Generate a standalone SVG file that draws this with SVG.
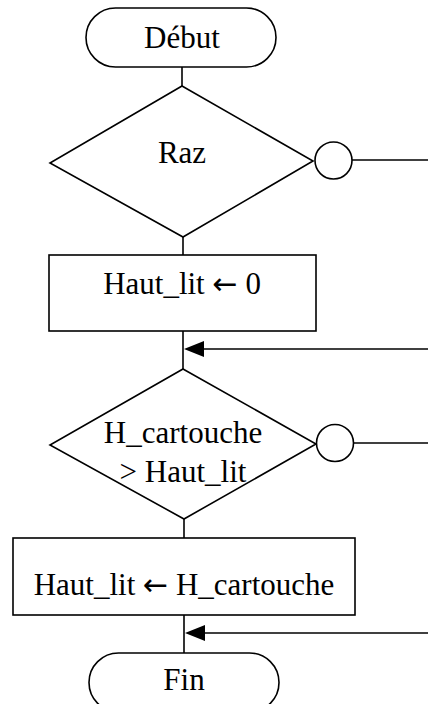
<svg xmlns="http://www.w3.org/2000/svg" width="428" height="704" viewBox="0 0 428 704">
<style>
.s{fill:#fff;stroke:#000;stroke-width:1.6}
.c{fill:none;stroke:#000;stroke-width:1.6}
.t{font-family:"Liberation Serif","Times New Roman",serif;font-size:31px;fill:#000;text-anchor:middle}
.ar{font-family:"DejaVu Sans",sans-serif;font-size:30px}
.a{fill:#000;stroke:none}
</style>
<rect width="428" height="704" fill="#fff"/>
<g id="connectors">
<path class="c" d="M182 67V86"/>
<path class="c" d="M183 237V255"/>
<path class="c" d="M183 331V369"/>
<path class="c" d="M428 349H190"/>
<polygon class="a" points="184,349 204,341 204,357"/>
<path class="c" d="M184 519V538"/>
<path class="c" d="M184 615V653"/>
<path class="c" d="M428 633H190"/>
<polygon class="a" points="185,633 205,625 205,641"/>
<path class="c" d="M352 160H428"/>
<path class="c" d="M354 443H428"/>
</g>
<g id="debut">
<rect class="s" x="86" y="8" width="190" height="59" rx="29.5"/>
<text class="t" x="182" y="48">Début</text>
</g>
<g id="raz">
<polygon class="s" points="182,86 313,161 183,237 50,163"/>
<text class="t" x="182" y="163">Raz</text>
</g>
<g id="conn1">
<circle class="s" cx="333.5" cy="160.5" r="18.5"/>
</g>
<g id="init">
<rect class="s" x="49" y="255" width="267" height="76"/>
<text class="t" x="182" y="294">Haut_lit <tspan class="ar">←</tspan> 0</text>
</g>
<g id="test">
<polygon class="s" points="183,369 316,444 184,519 50,445"/>
<text class="t" x="183" y="443">H_cartouche</text>
<text class="t" x="183" y="482">&gt; Haut_lit</text>
</g>
<g id="conn2">
<circle class="s" cx="335" cy="443" r="18.5"/>
</g>
<g id="assign">
<rect class="s" x="13" y="538" width="342" height="77"/>
<text class="t" x="184" y="595">Haut_lit <tspan class="ar">←</tspan> H_cartouche</text>
</g>
<g id="fin">
<rect class="s" x="89" y="653" width="190" height="59" rx="29.5"/>
<text class="t" x="184" y="690">Fin</text>
</g>
</svg>
